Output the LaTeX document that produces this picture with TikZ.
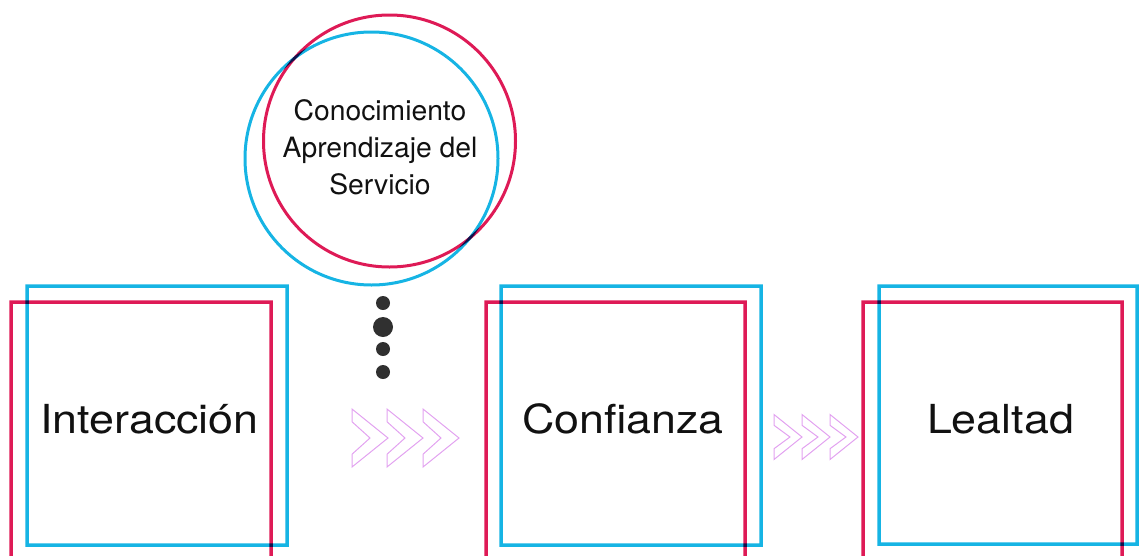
\documentclass[tikz,border=0pt]{standalone}
\usepackage{fontspec}
\setmainfont{TeX Gyre Heros}
\newfontfamily\boxfont[FakeStretch=1.12]{TeX Gyre Heros}
\newfontfamily\ringfont[FakeStretch=1.01]{TeX Gyre Heros}
\definecolor{cyanb}{RGB}{22,180,228}
\definecolor{redb}{RGB}{222,26,86}
\definecolor{chevc}{RGB}{226,162,240}
\definecolor{dotc}{RGB}{48,48,48}
\definecolor{txtc}{RGB}{17,17,17}
\tikzset{
  bluebox/.style={draw=cyanb, line width=3.5pt},
  redbox/.style={draw=redb, line width=3.5pt},
  bluering/.style={draw=cyanb, line width=3pt},
  redring/.style={draw=redb, line width=3pt},
  boxlabel/.style={anchor=base, inner sep=0pt, text=txtc, font=\boxfont\fontsize{40}{48}\selectfont},
  ringlabel/.style={anchor=base, inner sep=0pt, text=txtc, font=\ringfont\fontsize{28}{36}\selectfont},
  dotsty/.style={fill=dotc, draw=none},
  chevline/.style={draw=chevc, line width=1pt, line join=miter},
  chevA/.pic={\path[chevline] (0,-0.5)--(1,0)--(0,0.5)--(0,0.28)--(0.5,0)--(0,-0.28)--cycle;},
  chevB/.pic={\path[chevline] (0,-0.5)--(1,0)--(0,0.5)--(0,0.26)--(0.57,0)--(0,-0.26)--cycle;}
}
\begin{document}
\begin{tikzpicture}[x=1pt,y=-1pt]
\useasboundingbox (0,0) rectangle (1141,555);
\clip (0,0) rectangle (1141,555);
\begin{scope}[blend group=multiply]
  % circles
  \draw[redring] (389.5,141) circle[radius=126pt];
  \draw[bluering] (371.5,158.5) circle[radius=126.5pt];
  % box 1
  \draw[bluebox] (27,286) rectangle (287,545);
  \draw[redbox] (11,302) rectangle (271,600);
  % box 2
  \draw[bluebox] (501,286) rectangle (761,545);
  \draw[redbox] (486,302) rectangle (745,600);
  % box 3
  \draw[bluebox] (879,286) rectangle (1137,544);
  \draw[redbox] (863,302) rectangle (1122,600);
\end{scope}
% labels
\node[boxlabel] (inter) at (149.5,433) {Interacción};
\node[boxlabel] (conf) at (623,433) {Confianza};
\node[boxlabel] (leal) at (1000.5,433) {Lealtad};
\node[ringlabel] (ring1) at (380,120) {Conocimiento};
\node[ringlabel] (ring2) at (380,157) {Aprendizaje del};
\node[ringlabel] (ring3) at (380,194) {Servicio};
% dots
\fill[dotsty] (383,303) circle[radius=7pt];
\fill[dotsty] (383,327) circle[radius=10pt];
\fill[dotsty] (383,349) circle[radius=7pt];
\fill[dotsty] (383,372) circle[radius=7pt];
% chevrons
\pic[xscale=36,yscale=58] at (352,438) {chevA};
\pic[xscale=36,yscale=58] at (387,438) {chevA};
\pic[xscale=36,yscale=58] at (423,438) {chevA};
\pic[xscale=28,yscale=45] at (774,437) {chevB};
\pic[xscale=28,yscale=45] at (802,437) {chevB};
\pic[xscale=28,yscale=45] at (830,437) {chevB};
\end{tikzpicture}
\end{document}
